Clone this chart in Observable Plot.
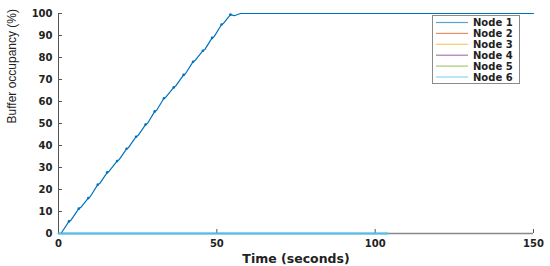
<!DOCTYPE html>
<html>
<head>
<meta charset="utf-8">
<script src="https://cdn.jsdelivr.net/npm/d3@7"></script>
<script src="https://cdn.jsdelivr.net/npm/@observablehq/plot@0.6"></script>
<style>
  html, body { margin: 0; padding: 0; background: #fff; }
  #wrap { position: relative; width: 550px; height: 266px; }
  #legend { position: absolute; left: 432px; top: 15px; }
</style>
</head>
<body>
<div id="wrap"><div id="chart"></div><svg id="legend" width="88" height="69"></svg></div>
<script>
const seriesNames = ["Node 1", "Node 2", "Node 3", "Node 4", "Node 5", "Node 6"];
const seriesColors = ["#0072BD", "#D95319", "#EDB120", "#7E2F8E", "#77AC30", "#4DBEEE"];

// Node 1 buffer occupancy (time in s, value in %)
const node1Time = [0.8, 3.3, 3.9, 6.4, 7.0, 9.4, 10.0, 12.4, 13.0, 15.4, 16.0, 18.5, 19.1, 21.5, 22.1, 24.5, 25.1, 27.5, 28.1, 30.4, 31.0, 33.3, 33.9, 36.4, 37.0, 39.5, 40.1, 42.5, 43.1, 45.6, 46.2, 48.5, 49.1, 51.5, 52.1, 54.3, 55.5, 57.5, 150];
const node1Value = [0, 5.5, 6.0, 11.3, 11.8, 16.1, 16.7, 22.2, 22.7, 27.8, 28.3, 32.9, 33.5, 38.5, 39.0, 44.0, 44.5, 49.5, 50.0, 55.5, 56.0, 61.5, 62.0, 66.4, 67.0, 72.1, 72.6, 78.1, 78.6, 83.1, 83.6, 88.9, 89.4, 95.0, 95.5, 99.5, 99.0, 100, 100];
// Nodes 2-6 stay empty
const otherTime = [0, 104];
const otherValue = [0, 0];

const xTicks = [0, 50, 100, 150];
const yTicks = [0, 10, 20, 30, 40, 50, 60, 70, 80, 90, 100];

const rows = [];
node1Time.forEach((t, i) => rows.push({series: "Node 1", t, v: node1Value[i]}));
for (const s of seriesNames.slice(1)) {
  otherTime.forEach((t, i) => rows.push({series: s, t, v: otherValue[i]}));
}
const markerRows = rows.filter((d, i) => d.series === "Node 1" && i % 2 === 1 && d.t < 55);

const axisColor = "#555";
const chart = Plot.plot({
  width: 550, height: 266,
  marginLeft: 58, marginRight: 17, marginTop: 13, marginBottom: 33,
  style: {fontFamily: "DejaVu Sans, sans-serif", fontSize: "10px", fontWeight: "bold", color: "#222", background: "#fff"},
  x: {domain: [0, 150]},
  y: {domain: [0, 100]},
  color: {domain: seriesNames, range: seriesColors},
  marks: [
    Plot.ruleX([0], {stroke: axisColor, strokeWidth: 1}),
    Plot.ruleY([0], {stroke: "#888", strokeWidth: 1.3}),
    Plot.axisY({ticks: yTicks, tickSize: -4, tickFormat: () => "", stroke: axisColor, label: null}),
    Plot.axisY({ticks: yTicks, tickSize: 0, tickPadding: 6, label: null, fill: "#222"}),
    Plot.axisX({ticks: xTicks, tickSize: -4, tickFormat: () => "", stroke: axisColor, label: null}),
    Plot.axisX({ticks: xTicks, tickSize: 0, tickPadding: 6, label: null, fill: "#222"}),
    Plot.line(rows, {x: "t", y: "v", z: "series", stroke: "series", strokeWidth: 1.2}),
    Plot.line(rows.filter(d => d.series === "Node 6"), {x: "t", y: "v", stroke: seriesColors[5], strokeWidth: 1.8}),
    Plot.dot(markerRows, {x: "t", y: "v", r: 1.3, fill: seriesColors[0], stroke: null}),
    Plot.text(["Time (seconds)"], {frameAnchor: "bottom", dy: 29, fontSize: 12.5, fontWeight: "bold", fill: "#222"}),
    Plot.text(["Buffer occupancy (%)"], {frameAnchor: "left", dx: -46, rotate: -90, fontSize: 12, fontWeight: "normal", fontFamily: "Liberation Sans Narrow, Liberation Sans, sans-serif", fill: "#222"})
  ]
});
document.getElementById("chart").appendChild(chart);

const lg = d3.select("#legend");
lg.append("rect").attr("x", 0.5).attr("y", 0.5).attr("width", 87).attr("height", 68)
  .attr("fill", "#fff").attr("stroke", "#8a8a8a").attr("stroke-width", 1);
seriesNames.forEach((name, i) => {
  const cy = 7.5 + i * 10.9;
  lg.append("line").attr("x1", 4).attr("x2", 36).attr("y1", cy).attr("y2", cy)
    .attr("stroke", seriesColors[i]).attr("stroke-width", 1.2).attr("stroke-opacity", 0.65);
  lg.append("text").attr("x", 41).attr("y", cy).attr("dy", "0.35em")
    .attr("font-family", "DejaVu Sans, sans-serif").attr("font-weight", "bold")
    .attr("font-size", 10).attr("fill", "#222").text(name);
});
</script>
</body>
</html>
